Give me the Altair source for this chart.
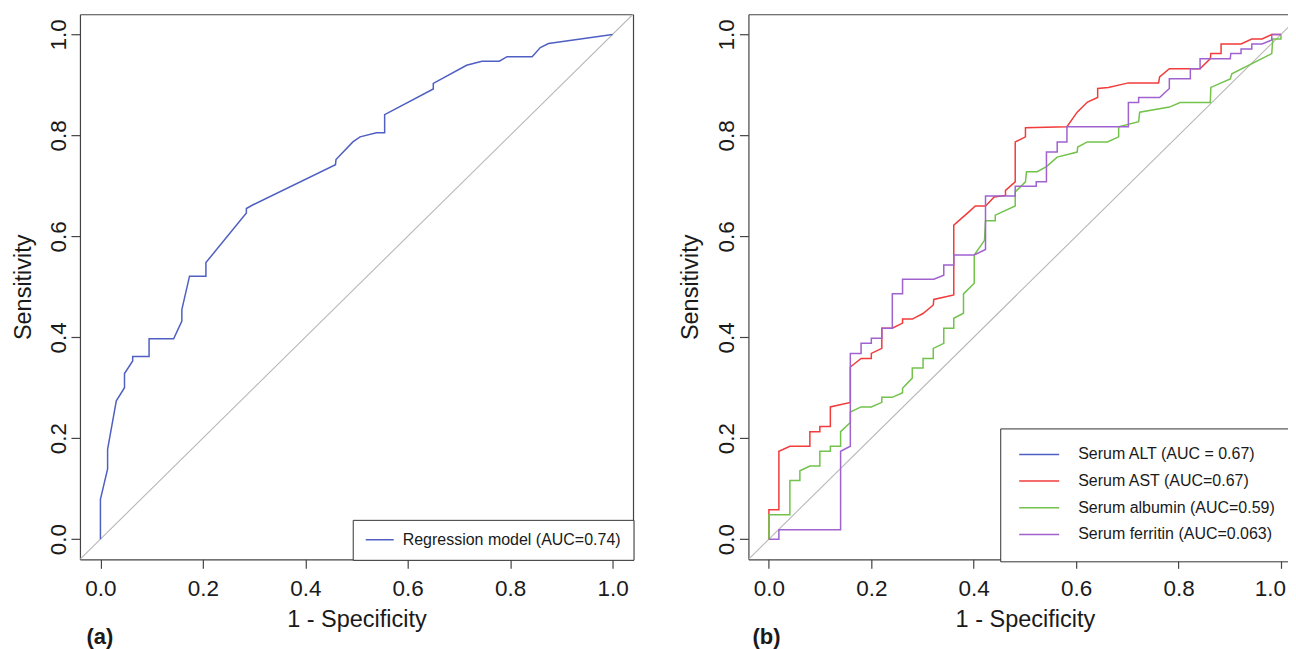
import altair as alt
import pandas as pd

FONT = "Liberation Sans"
TICKS = [0.0, 0.2, 0.4, 0.6, 0.8, 1.0]
DOMAIN = [-0.04, 1.04]
DOMAIN_B = [-0.04, 1.0137]   # right panel is cut off at the page edge
DIAG = [-0.04, 1.04]

# ---- panel (a): regression model ROC ----
reg_label = "Regression model (AUC=0.74)"
reg_color = "#4F60C2"
reg_fpr = [0, 0, 0.014, 0.014, 0.031, 0.047, 0.047, 0.063, 0.063, 0.095, 0.095,
           0.143, 0.159, 0.159, 0.174, 0.206, 0.206, 0.285, 0.285, 0.299, 0.459,
           0.460, 0.493, 0.507, 0.539, 0.555, 0.555, 0.650, 0.650, 0.715, 0.745,
           0.779, 0.794, 0.843, 0.859, 0.875, 1.0]
reg_tpr = [0, 0.079, 0.139, 0.178, 0.274, 0.300, 0.328, 0.353, 0.362, 0.362, 0.397,
           0.397, 0.432, 0.455, 0.521, 0.521, 0.548, 0.646, 0.655, 0.663, 0.742,
           0.752, 0.787, 0.797, 0.805, 0.805, 0.841, 0.892, 0.903, 0.939, 0.947,
           0.947, 0.956, 0.956, 0.974, 0.982, 1.0]

# ---- panel (b): single markers ----
series_labels = ["Serum ALT (AUC = 0.67)", "Serum AST (AUC=0.67)",
                 "Serum albumin (AUC=0.59)", "Serum ferritin (AUC=0.063)"]
series_colors = ["#4F60C2", "#F23B3B", "#72C24B", "#9F62CF"]

ast_fpr = [0, 0, 0.0195, 0.0195, 0.041, 0.080, 0.080, 0.0995, 0.0995, 0.120, 0.120,
           0.159, 0.159, 0.180, 0.200, 0.200, 0.2205, 0.2205, 0.241, 0.261, 0.261,
           0.280, 0.301, 0.321, 0.322, 0.361, 0.361, 0.390, 0.403, 0.423, 0.440,
           0.462, 0.462, 0.481, 0.481, 0.501, 0.501, 0.582, 0.602, 0.622, 0.642,
           0.642, 0.663, 0.702, 0.761, 0.763, 0.782, 0.842, 0.862, 0.863, 0.883,
           0.883, 0.922, 0.943, 0.963, 0.982, 1.0]
ast_tpr = [0, 0.058, 0.058, 0.174, 0.184, 0.184, 0.213, 0.213, 0.223, 0.223, 0.262,
           0.271, 0.341, 0.358, 0.358, 0.368, 0.378, 0.418, 0.418, 0.428, 0.436,
           0.436, 0.447, 0.464, 0.475, 0.484, 0.622, 0.648, 0.660, 0.660, 0.678,
           0.681, 0.691, 0.708, 0.787, 0.797, 0.815, 0.817, 0.846, 0.866, 0.875,
           0.893, 0.895, 0.904, 0.904, 0.916, 0.932, 0.932, 0.952, 0.962, 0.962,
           0.981, 0.981, 0.991, 0.991, 1.0, 1.0]

alb_fpr = [0, 0, 0.041, 0.041, 0.0605, 0.0605, 0.080, 0.0995, 0.0995, 0.120, 0.120,
           0.140, 0.140, 0.159, 0.159, 0.180, 0.200, 0.2205, 0.2205, 0.241, 0.261,
           0.261, 0.280, 0.280, 0.301, 0.301, 0.321, 0.321, 0.3415, 0.3415, 0.361,
           0.361, 0.380, 0.380, 0.401, 0.401, 0.421, 0.423, 0.442, 0.442, 0.481,
           0.481, 0.501, 0.503, 0.524, 0.542, 0.563, 0.602, 0.603, 0.622, 0.661,
           0.683, 0.683, 0.722, 0.724, 0.782, 0.803, 0.862, 0.863, 0.901, 0.904,
           0.982, 0.984, 1.0, 1.0]
alb_tpr = [0, 0.0485, 0.0485, 0.116, 0.116, 0.1355, 0.145, 0.145, 0.174, 0.174, 0.184,
           0.184, 0.213, 0.231, 0.252, 0.262, 0.262, 0.271, 0.281, 0.281, 0.290,
           0.299, 0.319, 0.339, 0.339, 0.358, 0.358, 0.378, 0.388, 0.418, 0.418,
           0.4375, 0.4475, 0.486, 0.507, 0.563, 0.592, 0.631, 0.631, 0.642, 0.660,
           0.688, 0.708, 0.728, 0.728, 0.738, 0.757, 0.767, 0.777, 0.787, 0.787,
           0.797, 0.817, 0.827, 0.846, 0.856, 0.865, 0.865, 0.895, 0.912, 0.922,
           0.962, 0.991, 0.991, 1.0]

fer_fpr = [0, 0.0195, 0.0195, 0.140, 0.140, 0.159, 0.159, 0.180, 0.180, 0.200, 0.200,
           0.2205, 0.2205, 0.241, 0.241, 0.261, 0.261, 0.322, 0.3415, 0.3415, 0.361,
           0.361, 0.401, 0.423, 0.423, 0.481, 0.481, 0.522, 0.522, 0.542, 0.542,
           0.563, 0.563, 0.582, 0.582, 0.702, 0.702, 0.722, 0.722, 0.763, 0.782,
           0.782, 0.823, 0.823, 0.842, 0.842, 0.901, 0.902, 0.922, 0.922, 0.943,
           0.943, 0.963, 0.982, 0.982, 1.0]
fer_tpr = [0, 0, 0.0188, 0.0188, 0.174, 0.184, 0.368, 0.368, 0.388, 0.388, 0.398,
           0.398, 0.418, 0.418, 0.486, 0.486, 0.515, 0.515, 0.523, 0.543, 0.543,
           0.563, 0.563, 0.574, 0.680, 0.680, 0.699, 0.699, 0.708, 0.708, 0.767,
           0.767, 0.787, 0.787, 0.817, 0.817, 0.865, 0.865, 0.875, 0.875, 0.893,
           0.912, 0.912, 0.932, 0.932, 0.952, 0.952, 0.962, 0.962, 0.971, 0.971,
           0.981, 0.981, 0.989, 1.0, 1.0]


def frame(xs, ys, label):
    return pd.DataFrame({"fpr": xs, "tpr": ys, "series": label, "idx": list(range(len(xs)))})


reg_df = frame(reg_fpr, reg_tpr, reg_label)
b_df = pd.concat([frame(ast_fpr, ast_tpr, series_labels[1]),
                  frame(alb_fpr, alb_tpr, series_labels[2]),
                  frame(fer_fpr, fer_tpr, series_labels[3])], ignore_index=True)
diag_df = pd.DataFrame({"fpr": DIAG, "tpr": DIAG})

TXT = "#1a1a1a"
LINE = "#444444"
DIAG_COLOR = "#B8B8B8"
AX = dict(labelFont=FONT, titleFont=FONT, labelFontSize=22.5, titleFontSize=23.5,
          labelColor=TXT, titleColor=TXT, titleFontWeight="normal",
          tickColor=LINE, tickWidth=1.2, tickSize=9, grid=False,
          domainColor=LINE, domainWidth=1.2, labelOverlap=False)


def x_bottom(title_x=None, flush=False):
    kw = dict(AX, orient="bottom", values=TICKS, format=".1f",
              labelBaseline="alphabetic", labelPadding=27.7,
              title="1 - Specificity", titleBaseline="alphabetic", titleY=67,
              titleAlign="center")
    if flush:
        kw["labelFlush"] = 10
        kw["labelFlushOffset"] = 4.5
    else:
        kw["labelFlush"] = False
    if title_x is not None:
        kw["titleX"] = title_x
    return alt.Axis(**kw)


def y_left(title_x):
    return alt.Axis(**AX, orient="left", values=TICKS, format=".1f", labelFlush=False,
                    labelAngle=270, labelAlign="center", labelBaseline="alphabetic",
                    labelPadding=5.5, title="Sensitivity", titleAngle=270,
                    titleBaseline="alphabetic", titleAlign="center", titleX=title_x)


def border(orient):
    return alt.Axis(orient=orient, labels=False, ticks=False, title=None, grid=False,
                    domain=True, domainColor=LINE, domainWidth=1.2)


def panel_title(text, dx):
    return alt.TitleParams(text, orient="bottom", anchor="start", frame="group",
                           font=FONT, fontSize=22, fontWeight="bold", color=TXT,
                           offset=0, dx=dx, dy=-4)


xs_a = alt.Scale(domain=DOMAIN, nice=False, zero=False)
xs_b = alt.Scale(domain=DOMAIN_B, nice=False, zero=False)
ys = alt.Scale(domain=DOMAIN, nice=False, zero=False)

# ---- panel (a) ----
diag_a = alt.Chart(diag_df).mark_line(color=DIAG_COLOR, strokeWidth=1.1, clip=True).encode(
    x=alt.X("fpr:Q", scale=xs_a, axis=border("top")),
    y=alt.Y("tpr:Q", scale=ys, axis=border("right")),
)
curve_a = alt.Chart(reg_df).mark_line(strokeWidth=1.5, clip=True).encode(
    x=alt.X("fpr:Q", scale=xs_a, axis=x_bottom()),
    y=alt.Y("tpr:Q", scale=ys, axis=y_left(-49)),
    order=alt.Order("idx:Q"),
    color=alt.Color("series:N",
                    scale=alt.Scale(domain=[reg_label], range=[reg_color]),
                    legend=alt.Legend(orient="bottom-right", title=None, offset=0,
                                      padding=12, strokeColor="#333333", fillColor="white",
                                      labelFont=FONT, labelFontSize=16, labelColor=TXT,
                                      labelLimit=600, symbolType="stroke", symbolSize=784,
                                      symbolStrokeWidth=1.5, labelOffset=8, clipHeight=16)),
)
panel_a = alt.layer(diag_a, curve_a).properties(
    width=553.5, height=545.5, title=panel_title("(a)", 6.5)
)

# ---- panel (b) ----
y_axis_b = y_left(-51)
diag_b = alt.Chart(diag_df).mark_line(color=DIAG_COLOR, strokeWidth=1.1, clip=True).encode(
    x=alt.X("fpr:Q", scale=xs_b, axis=border("top")),
    y=alt.Y("tpr:Q", scale=ys, axis=y_axis_b),
)
curve_b = alt.Chart(b_df).mark_line(strokeWidth=1.5, clip=True).encode(
    x=alt.X("fpr:Q", scale=xs_b, axis=x_bottom(title_x=276.7, flush=True)),
    y=alt.Y("tpr:Q", scale=ys, axis=y_axis_b),
    order=alt.Order("idx:Q"),
    color=alt.Color("series:N",
                    scale=alt.Scale(domain=series_labels, range=series_colors),
                    legend=alt.Legend(orient="none", legendX=252, legendY=414.5,
                                      title=None, padding=18,
                                      strokeColor="#333333", fillColor="white",
                                      labelFont=FONT, labelFontSize=16, labelColor=TXT,
                                      labelLimit=600, symbolType="stroke", symbolSize=1600,
                                      symbolStrokeWidth=1.5, labelOffset=18, clipHeight=16,
                                      rowPadding=10.7)),
)
panel_b = alt.layer(diag_b, curve_b).properties(
    width=540, height=545.5, title=panel_title("(b)", 4)
)

chart = alt.hconcat(panel_a, panel_b, spacing=44).resolve_scale(
    color="independent", x="independent", y="independent"
).properties(
    padding={"left": 4, "top": 6, "right": -6, "bottom": 0}
).configure_view(stroke=None)

chart.save("out.html", embed_options={"renderer": "svg", "actions": False})
